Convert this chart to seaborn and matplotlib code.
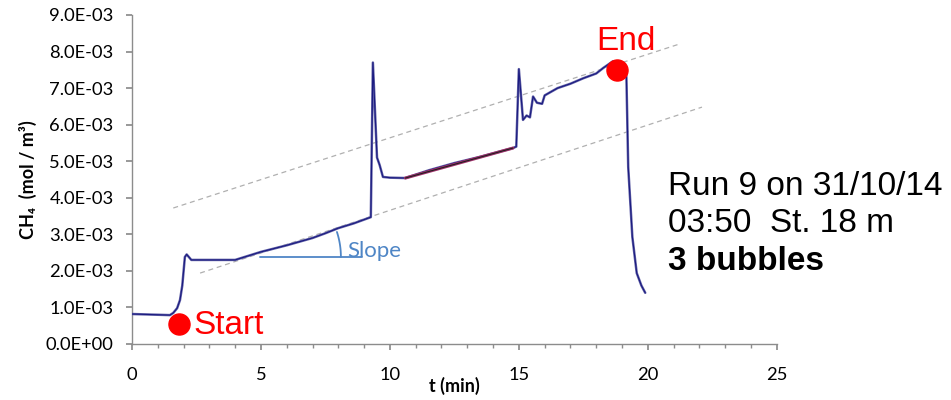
import numpy as np
import seaborn as sns
import pandas as pd
import matplotlib.pyplot as plt
from matplotlib.ticker import FuncFormatter, MultipleLocator

# CH4 trace (t in min, CH4 in mol/m3)
t = [0.0, 0.5, 1.0, 1.47, 1.6, 1.75, 1.86, 1.95, 2.05, 2.12, 2.3, 3.0, 4.0,
     5.0, 6.0, 7.0, 7.5, 8.0, 8.6, 9.26, 9.34, 9.5, 9.6, 9.73, 10.0, 10.6,
     11.5, 12.5, 13.5, 14.77, 14.9, 15.0, 15.16, 15.3, 15.43, 15.55, 15.7,
     15.9, 16.0, 16.5, 17.0, 17.5, 18.0, 18.27, 18.64, 18.9, 19.1, 19.17,
     19.24, 19.4, 19.57, 19.75, 19.9]
ch4 = [0.82e-3, 0.81e-3, 0.80e-3, 0.79e-3, 0.85e-3, 0.98e-3, 1.2e-3, 1.6e-3,
       2.38e-3, 2.45e-3, 2.3e-3, 2.3e-3, 2.3e-3, 2.52e-3, 2.7e-3, 2.9e-3,
       3.03e-3, 3.17e-3, 3.3e-3, 3.47e-3, 7.7e-3, 5.1e-3, 4.9e-3, 4.57e-3,
       4.55e-3, 4.54e-3, 4.75e-3, 4.95e-3, 5.12e-3, 5.36e-3, 5.4e-3, 7.52e-3,
       6.13e-3, 6.25e-3, 6.2e-3, 6.77e-3, 6.6e-3, 6.57e-3, 6.8e-3, 7.0e-3,
       7.12e-3, 7.27e-3, 7.4e-3, 7.55e-3, 7.73e-3, 7.73e-3, 7.63e-3, 7.3e-3,
       4.84e-3, 2.93e-3, 1.94e-3, 1.6e-3, 1.4e-3]

# linear fit segment between bubbles
fit_t = [10.6, 14.77]
fit_y = [4.54e-3, 5.36e-3]

# parallel guide lines
upper_t = [1.6, 21.2]
upper_y = [3.72e-3, 8.2e-3]
lower_t = [2.64, 22.1]
lower_y = [1.94e-3, 6.48e-3]

# start / end markers
start_pt = (1.82, 0.55e-3)
end_pt = (18.8, 7.5e-3)

# slope annotation base line
slope_t = [4.96, 8.91]
slope_y = 2.38e-3

data = pd.DataFrame({"t": t, "ch4": ch4})

sns.set_theme(style="white")
plt.rcParams["font.family"] = ["Lato", "DejaVu Sans"]
plt.rcParams["text.color"] = "black"

fig = plt.figure(figsize=(9.51, 4.0), dpi=100)
ax = fig.add_axes([0.1388, 0.14, 0.678, 0.8225])

ax.plot(upper_t, upper_y, color="#b0b0b0", lw=0.9, ls=(0, (4, 3)), zorder=1)
ax.plot(lower_t, lower_y, color="#b0b0b0", lw=0.9, ls=(0, (4, 3)), zorder=1)

sns.lineplot(data=data, x="t", y="ch4", sort=False, estimator=None,
             color="#6464a8", lw=1.8, ax=ax, zorder=3)
sns.lineplot(data=data, x="t", y="ch4", sort=False, estimator=None,
             color="#1a1a80", lw=0.8, ax=ax, zorder=4)
ax.plot(fit_t, fit_y, color="#a0306a", lw=2.2, zorder=5)
ax.plot(fit_t, fit_y, color="#202020", lw=0.8, zorder=6)

# slope annotation: horizontal base and a small arc (radius ~81 px)
ax.plot(slope_t, [slope_y, slope_y], color="#4f86c6", lw=1.3, zorder=2)
px_x = 25.8          # pixels per minute
px_y = 36.55 / 1e-3  # pixels per mol/m3
theta = np.radians(np.linspace(0, 18, 30))
r = 81
ax.plot(slope_t[0] + r * np.cos(theta) / px_x,
        slope_y + r * np.sin(theta) / px_y, color="#4f86c6", lw=1.3)
ax.text(8.33, 2.55e-3, "Slope", color="#4f86c6", fontsize=16,
        va="center", ha="left")

ax.scatter([start_pt[0]], [start_pt[1]], s=230, color="#ff0000", zorder=7)
ax.scatter([end_pt[0]], [end_pt[1]], s=230, color="#ff0000", zorder=7)
ax.text(2.4, 0.5e-3, "Start", color="#ff0000", fontsize=24,
        family=["Liberation Sans"], va="center", ha="left")
ax.text(19.15, 8.28e-3, "End", color="#ff0000", fontsize=24,
        family=["Liberation Sans"], va="center", ha="center")

fig.text(0.702, 0.533, "Run 9 on 31/10/14", fontsize=24, color="black",
         family=["Liberation Sans"], va="center", ha="left")
fig.text(0.702, 0.44, "03:50  St. 18 m", fontsize=24, color="black",
         family=["Liberation Sans"], va="center", ha="left")
fig.text(0.702, 0.345, "3 bubbles", fontsize=24, fontweight="bold",
         color="black", family=["Liberation Sans"], va="center", ha="left")

ax.set_xlim(0, 25)
ax.set_ylim(0, 9e-3)
ax.xaxis.set_major_locator(MultipleLocator(5))
ax.xaxis.set_minor_locator(MultipleLocator(1))
ax.yaxis.set_major_locator(MultipleLocator(1e-3))
ax.yaxis.set_major_formatter(FuncFormatter(lambda v, p: f"{v:.1E}"))

for side in ["top", "right"]:
    ax.spines[side].set_visible(False)
for side in ["left", "bottom"]:
    ax.spines[side].set_color("#8c8c8c")
    ax.spines[side].set_linewidth(1.0)

ax.tick_params(axis="both", which="major", direction="out", length=4.3,
               color="#8c8c8c", labelsize=13.2, labelcolor="black",
               left=True, bottom=True)
ax.tick_params(axis="y", which="major", pad=9)
ax.tick_params(axis="x", which="major", pad=12)
ax.tick_params(axis="x", which="minor", direction="out", length=3,
               color="#8c8c8c", bottom=True)

ax.set_xlabel("t (min)", fontsize=13, fontweight="bold", color="black",
              labelpad=-4)
ax.set_ylabel("CH\u2084  (mol / m\u00b3)", fontsize=13, fontweight="bold",
              color="black", labelpad=6)

plt.savefig("out.png", dpi=100)
